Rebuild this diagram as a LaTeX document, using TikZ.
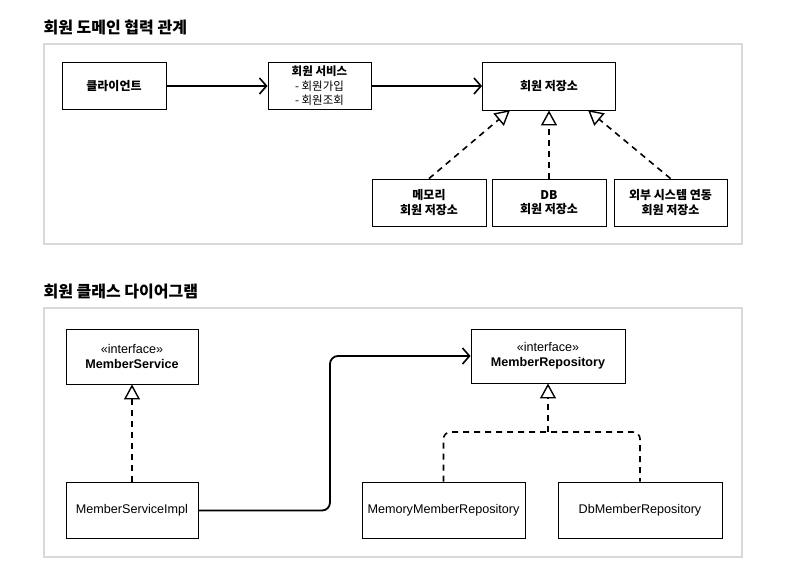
\documentclass[tikz,border=0pt]{standalone}
\usepackage{fontspec}
\setmainfont{Liberation Sans}
\newfontfamily\kr{Noto Sans CJK KR}
\usetikzlibrary{arrows.meta}
\begin{document}
\begin{tikzpicture}[x=1pt,y=-1pt,
  frame/.style={draw=black!15,line width=2pt},
  boxk/.style={draw=black,line width=0.9pt,fill=white,inner sep=0pt,font=\kr\fontsize{12}{14.5}\selectfont\bfseries,align=center},
  boxe/.style={draw=black,line width=0.9pt,fill=white,inner sep=0pt,font=\fontsize{12.6}{15}\selectfont,align=center},
  title/.style={anchor=west,font=\kr\fontsize{16}{18}\selectfont\bfseries},
  assoc/.style={line width=1.8pt,-{Straight Barb[length=7pt,width=16pt,line width=1.6pt]}},
  real/.style={line width=1.6pt,dash pattern=on 6pt off 5pt,-{Triangle[open,length=15pt,width=16pt,line width=1.4pt,fill=white]}},
  reall/.style={line width=1.6pt,dash pattern=on 6pt off 5pt}
]
\useasboundingbox (0,0) rectangle (797,574);
% titles
\node[title] (t1) at (40,27) {회원 도메인 협력 관계};
\node[title] (t2) at (40,292) {회원 클래스 다이어그램};
% frames
\draw[frame] (44,44) rectangle (742,244);
\draw[frame] (44,308) rectangle (742,557);
% top diagram
\node[boxk,minimum width=104pt,minimum height=47pt] (client) at (114,86) {클라이언트};
\node[boxk,minimum width=103pt,minimum height=47pt,font=\kr\fontsize{11.5}{14.5}\selectfont\bfseries] (svc) at (319.5,86) {회원 서비스\\\mdseries - 회원가입\\\mdseries - 회원조회};
\node[boxk,minimum width=133pt,minimum height=48pt] (repo) at (549,86) {회원 저장소};
\node[boxk,minimum width=114pt,minimum height=47pt] (mem) at (429,202.5) {메모리\\회원 저장소};
\node[boxk,minimum width=114pt,minimum height=47pt] (db) at (549,202.5) {DB\\회원 저장소};
\node[boxk,minimum width=113pt,minimum height=47pt] (ext) at (670.5,202.5) {외부 시스템 연동\\회원 저장소};
\draw[assoc] (client.east) -- (svc.west);
\draw[assoc] (svc.east) -- (repo.west);
\draw[real] (mem.north) -- (510,110);
\draw[real] (db.north) -- (repo.south);
\draw[real] (ext.north) -- (588,110);
% bottom diagram
\node[boxe,minimum width=132pt,minimum height=55pt] (ms) at (132,356.5) {«interface»\\\textbf{MemberService}};
\node[boxe,minimum width=132pt,minimum height=56pt] (msi) at (132,510.5) {MemberServiceImpl};
\node[boxe,minimum width=154pt,minimum height=54pt] (mr) at (548,356) {«interface»\\\textbf{MemberRepository}};
\node[boxe,minimum width=163pt,minimum height=56pt] (mmr) at (443.5,510) {MemoryMemberRepository};
\node[boxe,minimum width=164pt,minimum height=56pt] (dmr) at (640,510) {DbMemberRepository};
\draw[real] (msi.north) -- (ms.south);
\draw[assoc,rounded corners=8pt] (msi.east) -- (330,510.5) -- (330,356) -- (mr.west);
\coordinate (split) at (548,432);
\draw[real] (split) -- (mr.south);
\draw[reall,rounded corners=7pt] (mmr.north) -- (mmr.north |- split) -- (split) -- (dmr.north |- split) -- (dmr.north);
\end{tikzpicture}
\end{document}
